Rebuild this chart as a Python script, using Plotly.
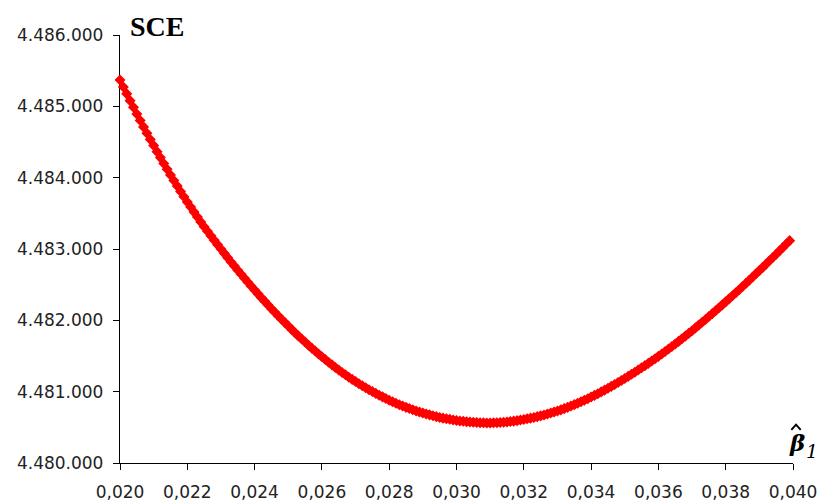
import numpy as np
import plotly.graph_objects as go

# Slope estimates on a regular grid, step 0.0001
beta1 = np.round(np.arange(0.020, 0.04001, 0.0001), 4)

# Sum of squared errors for each slope value
sce = [
    4485370, 4485272, 4485175, 4485080, 4484986, 4484893, 4484802, 4484712, 4484623, 4484536,
    4484450, 4484365, 4484281, 4484198, 4484117, 4484037, 4483959, 4483882, 4483807, 4483733,
    4483660, 4483588, 4483517, 4483448, 4483380, 4483313, 4483248, 4483184, 4483122, 4483061,
    4483000, 4482939, 4482879, 4482819, 4482760, 4482702, 4482645, 4482589, 4482534, 4482479,
    4482425, 4482371, 4482318, 4482266, 4482214, 4482163, 4482113, 4482064, 4482016, 4481968,
    4481920, 4481873, 4481827, 4481782, 4481738, 4481695, 4481652, 4481610, 4481569, 4481529,
    4481490, 4481451, 4481413, 4481376, 4481340, 4481305, 4481270, 4481236, 4481203, 4481172,
    4481142, 4481112, 4481083, 4481055, 4481028, 4481002, 4480976, 4480951, 4480927, 4480903,
    4480880, 4480858, 4480837, 4480817, 4480798, 4480780, 4480763, 4480746, 4480730, 4480715,
    4480702, 4480688, 4480675, 4480662, 4480650, 4480639, 4480629, 4480620, 4480612, 4480604,
    4480597, 4480590, 4480584, 4480579, 4480574, 4480570, 4480567, 4480565, 4480563, 4480562,
    4480562, 4480563, 4480565, 4480568, 4480572, 4480576, 4480581, 4480587, 4480594, 4480602,
    4480610, 4480619, 4480629, 4480639, 4480650, 4480661, 4480673, 4480686, 4480700, 4480714,
    4480729, 4480745, 4480762, 4480780, 4480799, 4480818, 4480838, 4480859, 4480880, 4480902,
    4480925, 4480948, 4480972, 4480997, 4481022, 4481048, 4481074, 4481101, 4481129, 4481157,
    4481185, 4481214, 4481243, 4481273, 4481303, 4481334, 4481365, 4481397, 4481429, 4481462,
    4481495, 4481529, 4481563, 4481598, 4481633, 4481669, 4481705, 4481742, 4481779, 4481817,
    4481855, 4481894, 4481933, 4481973, 4482013, 4482053, 4482094, 4482135, 4482176, 4482217,
    4482259, 4482301, 4482344, 4482387, 4482430, 4482474, 4482518, 4482562, 4482607, 4482652,
    4482697, 4482742, 4482788, 4482834, 4482880, 4482927, 4482974, 4483021, 4483069, 4483117,
]

x_tickvals = [0.020, 0.022, 0.024, 0.026, 0.028, 0.030, 0.032, 0.034, 0.036, 0.038, 0.040]
x_ticktext = ["0,020", "0,022", "0,024", "0,026", "0,028", "0,030",
              "0,032", "0,034", "0,036", "0,038", "0,040"]
y_tickvals = [4480000, 4481000, 4482000, 4483000, 4484000, 4485000, 4486000]
y_ticktext = ["4.480.000", "4.481.000", "4.482.000", "4.483.000",
              "4.484.000", "4.485.000", "4.486.000"]

fig = go.Figure()
fig.add_trace(go.Scatter(
    x=beta1, y=sce, mode="markers",
    marker=dict(symbol="diamond", size=8.5, color="#ff0000", line=dict(width=0)),
    cliponaxis=False, showlegend=False, hoverinfo="x+y",
))

tick_font = dict(family="DejaVu Sans", size=17, color="#222222")
axis_common = dict(
    showgrid=False, zeroline=False, showline=True, linecolor="black", linewidth=1.3,
    ticks="outside", ticklen=6, tickwidth=1.3, tickcolor="black",
    tickfont=tick_font, layer="below traces", mirror=False, automargin=False,
)

fig.update_xaxes(range=[0.020, 0.040], tickmode="array", tickvals=x_tickvals,
                 ticktext=x_ticktext, ticklabelstandoff=7, **axis_common)
fig.update_yaxes(range=[4480000, 4486000], tickmode="array", tickvals=y_tickvals,
                 ticktext=y_ticktext, ticklabelstandoff=6, **axis_common)

fig.add_annotation(text="<b>SCE</b>", xref="paper", yref="paper", x=0.0119, y=1,
                   xanchor="left", yanchor="middle", yshift=9, showarrow=False,
                   font=dict(family="Liberation Serif", size=28, color="black"))
# x-axis label: beta with a hat and subscript 1
fig.add_annotation(text="<b><i>β</i></b>", xref="paper", yref="paper",
                   x=1.0065, y=0.047, xanchor="center", yanchor="middle", showarrow=False,
                   font=dict(family="DejaVu Serif", size=23, color="black"))
fig.add_shape(type="path", xref="paper", yref="paper",
              path="M 0.9975 0.0775 L 1.0045 0.0895 L 1.0115 0.0775",
              line=dict(color="black", width=2))
fig.add_annotation(text="<i>1</i>", xref="paper", yref="paper",
                   x=1.0285, y=0.027, xanchor="center", yanchor="middle", showarrow=False,
                   font=dict(family="DejaVu Serif", size=19, color="black"))

fig.update_layout(
    width=821, height=503,
    margin=dict(l=120, r=28, t=35, b=40),
    paper_bgcolor="white", plot_bgcolor="white",
)

fig.write_html("out.html")
